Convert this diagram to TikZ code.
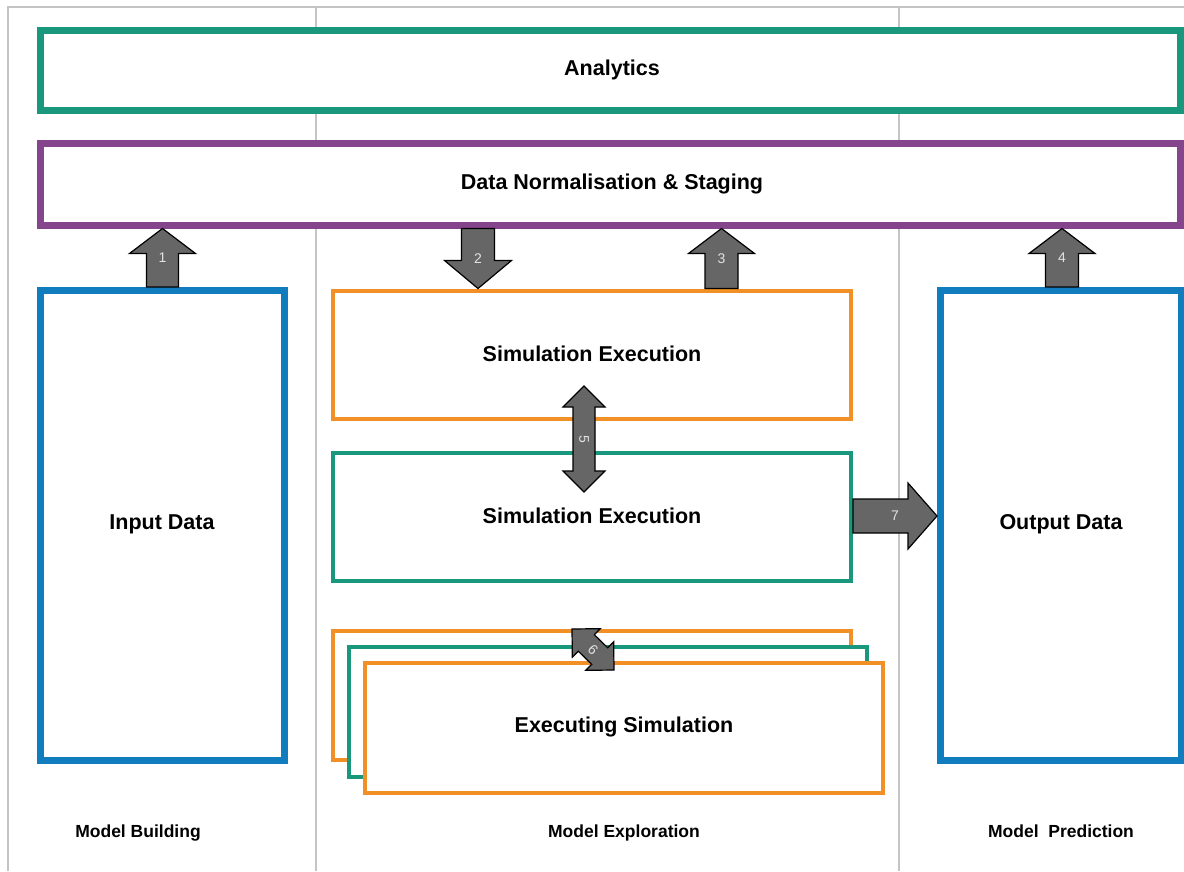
\documentclass[tikz,border=0pt]{standalone}
\usepackage{fontspec}
\setmainfont{Liberation Sans}
\usetikzlibrary{calc}
\definecolor{cteal}{HTML}{1A987D}
\definecolor{cpurple}{HTML}{85458C}
\definecolor{cblue}{HTML}{117CBE}
\definecolor{corange}{HTML}{F19026}
\definecolor{cframe}{HTML}{C4C4C4}
\definecolor{carrow}{HTML}{666666}
\definecolor{clabel}{HTML}{E2E2E2}
\tikzset{
  bigbox/.style={draw, line width=7pt, fill=white, inner sep=0pt},
  simbox/.style={draw, line width=4pt, fill=white, inner sep=0pt},
  boxtext/.style={font=\fontsize{21.5}{25}\selectfont\bfseries},
  framebar/.style={draw=cframe, line width=1.5pt},
  phase/.style={font=\fontsize{17.5}{20}\selectfont\bfseries, anchor=base},
  fatarrow/.style={fill=carrow, draw=black, line width=1.2pt, line join=miter},
  arrowlabel/.style={text=clabel, font=\fontsize{14}{16}\selectfont, inner sep=0pt}
}
% #1 tail, #2 tip, #3 shaft half width, #4 head half width, #5 head length, #6 label, #7 label rotation
\newcommand\fatarrow[7]{%
  \coordinate (fa-c) at ($(#2)!#5!(#1)$);
  \path[fatarrow] ($(#1)!#3!90:(#2)$) -- ($(fa-c)!#3!-90:(#1)$) -- ($(fa-c)!#4!-90:(#1)$)
     -- (#2) -- ($(fa-c)!#4!90:(#1)$) -- ($(fa-c)!#3!90:(#1)$) -- ($(#1)!#3!-90:(#2)$) -- cycle;
  \node[arrowlabel, rotate=#7] at ($(#1)!.5!(#2)$) {#6};
}
\newcommand\dblfatarrow[7]{%
  \coordinate (da-c1) at ($(#1)!#5!(#2)$);
  \coordinate (da-c2) at ($(#2)!#5!(#1)$);
  \path[fatarrow] (#1) -- ($(da-c1)!#4!90:(#2)$) -- ($(da-c1)!#3!90:(#2)$)
     -- ($(da-c2)!#3!-90:(#1)$) -- ($(da-c2)!#4!-90:(#1)$) -- (#2)
     -- ($(da-c2)!#4!90:(#1)$) -- ($(da-c2)!#3!90:(#1)$)
     -- ($(da-c1)!#3!-90:(#2)$) -- ($(da-c1)!#4!-90:(#2)$) -- cycle;
  \node[arrowlabel, rotate=#7] at ($(#1)!.5!(#2)$) {#6};
}
\begin{document}
\begin{tikzpicture}[x=1pt, y=-1pt]
\useasboundingbox[fill=white] (0,0) rectangle (1184,871);
% frame of the three phases
\draw[framebar] (8,871) -- (8,7) -- (1184,7);
\draw[framebar] (316,7) -- (316,871);
\draw[framebar] (899,7) -- (899,871);

% layers
\node[bigbox, draw=cteal, minimum width=1140pt, minimum height=80pt] (analytics) at (610.5,70.5) {};
\node[boxtext] (analyticstext) at (612,70) {Analytics};
\node[bigbox, draw=cpurple, minimum width=1140pt, minimum height=81.5pt] (norm) at (610.5,184.25) {};
\node[boxtext] (normtext) at (612,183.5) {Data Normalisation \& Staging};

\node[bigbox, draw=cblue, minimum width=244pt, minimum height=470pt] (input) at (162.5,525.5) {};
\node[boxtext] (inputtext) at (162,524.5) {Input Data};
\node[bigbox, draw=cblue, minimum width=240.5pt, minimum height=470pt] (output) at (1060.75,525.5) {};
\node[boxtext] (outputtext) at (1061,524.5) {Output Data};

\node[simbox, draw=corange, minimum width=518.5pt, minimum height=128pt] (sim1) at (591.75,354.5) {};
\node[boxtext] (sim1text) at (592,354) {Simulation Execution};
\node[simbox, draw=cteal, minimum width=518.5pt, minimum height=128.5pt] (sim2) at (591.75,516.75) {};
\node[boxtext] (sim2text) at (592,516) {Simulation Execution};

\node[simbox, draw=corange, minimum width=518.5pt, minimum height=129pt] (stackback) at (591.75,695.5) {};
\node[simbox, draw=cteal, minimum width=518.5pt, minimum height=130pt] (stackmid) at (607.75,712) {};
\node[simbox, draw=corange, minimum width=518pt, minimum height=130pt] (stackfront) at (624,728) {};
\node[boxtext] (stacktext) at (624,727) {Executing Simulation};

% phase labels
\node[phase] (pbuild) at (138,837.5) {Model Building};
\node[phase] (pexplore) at (624,837.5) {Model Exploration};
\node[phase] (ppredict) at (1061,837.5) {Model\ \ Prediction};

% connectors
\fatarrow{input.north}{norm.south -| input.north}{16pt}{33pt}{25pt}{1}{0}
\coordinate (a2top) at (norm.south -| 478,0);
\coordinate (a2bot) at (sim1.north -| 478,0);
\fatarrow{a2top}{a2bot}{16.5pt}{33.5pt}{28pt}{2}{0}
\coordinate (a3bot) at (sim1.north -| 721.5,0);
\coordinate (a3top) at (norm.south -| 721.5,0);
\fatarrow{a3bot}{a3top}{16.5pt}{33pt}{25pt}{3}{0}
\coordinate (a4bot) at (output.north -| 1062,0);
\coordinate (a4top) at (norm.south -| 1062,0);
\fatarrow{a4bot}{a4top}{16.5pt}{33pt}{25pt}{4}{0}
\coordinate (a5top) at (584,386);
\coordinate (a5bot) at (584,492);
\dblfatarrow{a5top}{a5bot}{11pt}{21pt}{21pt}{5}{-90}
\coordinate (a6a) at (572,629);
\coordinate (a6b) at (614,670);
\dblfatarrow{a6a}{a6b}{11.5pt}{20pt}{20pt}{6}{-45}
\coordinate (a7tail) at (sim2.east |- 0,516);
\coordinate (a7tip) at (output.west |- 0,516);
\fatarrow{a7tail}{a7tip}{17pt}{33pt}{29pt}{7}{0}
\end{tikzpicture}
\end{document}
